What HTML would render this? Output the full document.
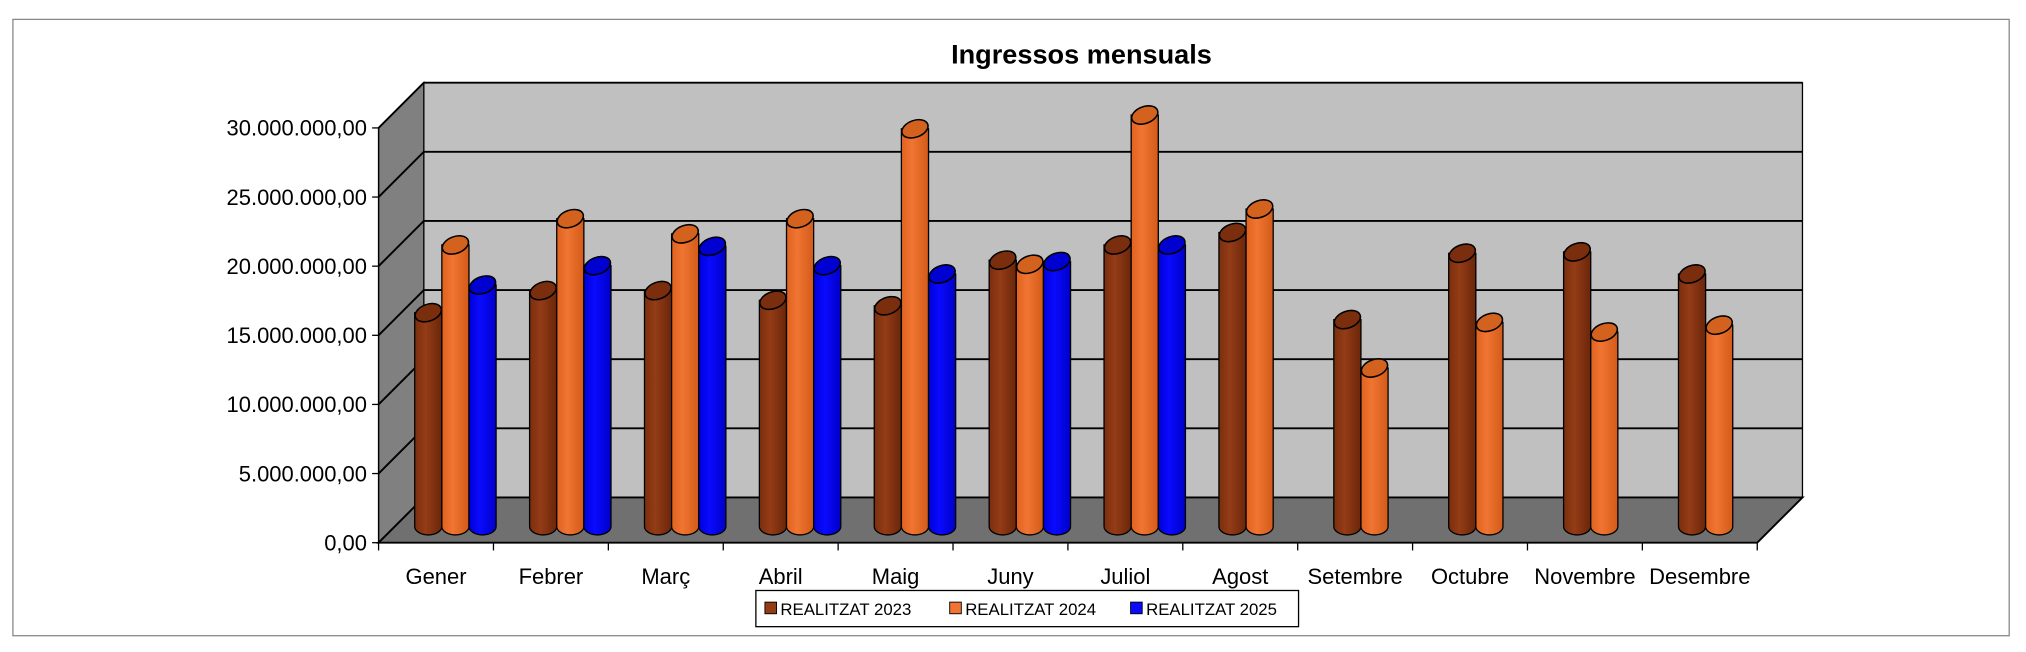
<!DOCTYPE html>
<html><head><meta charset="utf-8"><style>
html,body{margin:0;padding:0;background:#fff;}
svg{display:block;font-family:"Liberation Sans",sans-serif;}
</style></head><body>
<svg id="chart" width="2026" height="652" viewBox="0 0 1568 504.6" xmlns="http://www.w3.org/2000/svg">
<defs>
<linearGradient id="g0" x1="0" x2="1"><stop offset="0" stop-color="#7a2e0e"/><stop offset="0.4" stop-color="#943c16"/><stop offset="1" stop-color="#6a260a"/></linearGradient>
<linearGradient id="g1" x1="0" x2="1"><stop offset="0" stop-color="#e0621e"/><stop offset="0.4" stop-color="#f07533"/><stop offset="1" stop-color="#d35a18"/></linearGradient>
<linearGradient id="g2" x1="0" x2="1"><stop offset="0" stop-color="#0000d8"/><stop offset="0.4" stop-color="#0a0aff"/><stop offset="1" stop-color="#0000c8"/></linearGradient>
</defs>
<rect x="10" y="15" width="1545" height="477" fill="#fff" stroke="#888" stroke-width="1"/>
<text x="837" y="49" text-anchor="middle" font-size="21" font-weight="bold">Ingressos mensuals</text>
<g id="walls"></g>
<g id="bars"></g>
<g id="axes"></g>
<g>
<rect x="585" y="457" width="420" height="28" fill="#fff" stroke="#000" stroke-width="1"/>
<rect x="592" y="466" width="9" height="9" fill="#943c16" stroke="#000" stroke-width="0.7"/>
<text x="604" y="476" font-size="13">REALITZAT 2023</text>
<rect x="735" y="466" width="9" height="9" fill="#f07533" stroke="#000" stroke-width="0.7"/>
<text x="747" y="476" font-size="13">REALITZAT 2024</text>
<rect x="875" y="466" width="9" height="9" fill="#0a0aff" stroke="#000" stroke-width="0.7"/>
<text x="887" y="476" font-size="13">REALITZAT 2025</text>
</g>
</svg>
<script>
const categories = ["Gener","Febrer","Març","Abril","Maig","Juny","Juliol","Agost","Setembre","Octubre","Novembre","Desembre"];
const values2023 = [15.0,16.6,16.6,15.9,15.5,18.8,19.9,20.8,14.5,19.3,19.4,17.8];
const values2024 = [19.9,21.8,20.7,21.8,28.3,18.5,29.3,22.5,11.0,14.3,13.6,14.1];
const values2025 = [17.0,18.4,19.8,18.4,17.8,18.7,19.9,null,null,null,null,null];
const yTicks = [0,5,10,15,20,25,30];
const yTickLabels = ["0,00","5.000.000,00","10.000.000,00","15.000.000,00","20.000.000,00","25.000.000,00","30.000.000,00"];
const seriesList = [values2023, values2024, values2025];

const NS = "http://www.w3.org/2000/svg";
const X0 = 293, X1 = 1360, Y0 = 420, PXM = 10.7, DX = 35, DY = -35;
function yFront(v){ return Y0 - v * PXM; }
function yMid(v){ return Y0 + DY/2 - v * PXM; }
function xCat(i){ return X0 + (X1 - X0) / categories.length * (i + 0.5); }
function mk(tag, attrs, parent){ const e = document.createElementNS(NS, tag); for (const k in attrs) e.setAttribute(k, attrs[k]); parent.appendChild(e); return e; }

const walls = document.getElementById('walls');
const yMax = yTicks[yTicks.length-1];
const bw = mk('rect', {x:X0+DX, y:yFront(yMax)+DY, width:X1-X0, height:yMax*PXM, fill:'#c0c0c0', stroke:'#000', 'stroke-width':1}, walls);


const sw = mk('polygon', {points:`${X0},${yFront(yMax)} ${X0+DX},${yFront(yMax)+DY} ${X0+DX},${Y0+DY} ${X0},${Y0}`, fill:'#808080', stroke:'#000', 'stroke-width':1}, walls);


const fl = mk('polygon', {points:`${X0},${Y0} ${X0+DX},${Y0+DY} ${X1+DX},${Y0+DY} ${X1},${Y0}`, fill:'#707070', stroke:'#000', 'stroke-width':1.5}, walls);


yTicks.forEach(function(t){
  if (t === 0) return;
  const g = mk('polyline', {points:`${X0},${yFront(t)} ${X0+DX},${yFront(t)+DY} ${X1+DX},${yFront(t)+DY}`, fill:'none', stroke:'#000', 'stroke-width':1.5}, walls);
  
  
});

const bars = document.getElementById('bars');
const R = 10.5, RY = 6.5;
const grads = ['url(#g0)','url(#g1)','url(#g2)'];
const tops = ['#7a2e0e','#d4621f','#0000d0'];
const names = ['bar-2023','bar-2024','bar-2025'];
categories.forEach(function(c, i){
  seriesList.forEach(function(s, k){
    const v = s[i];
    if (v === null || v === undefined) return;
    const cx = xCat(i) + 15 + (k - 1) * 21;
    const yb = yMid(0) + 5, yt = yMid(v);
    const g = mk('g', {}, bars);
    
    
    mk('path', {d:`M${cx-R},${yt} L${cx-R},${yb} A${R},${RY} 0 0 0 ${cx+R},${yb} L${cx+R},${yt} Z`, fill:grads[k], stroke:'#000', 'stroke-width':1}, g);
    mk('ellipse', {cx:cx, cy:yt, rx:R, ry:RY, fill:tops[k], stroke:'#000', 'stroke-width':1.2, transform:`rotate(-20 ${cx} ${yt})`}, g);
  });
});

const axes = document.getElementById('axes');
const ya = mk('line', {x1:X0, y1:yFront(yMax), x2:X0, y2:Y0, stroke:'#000', 'stroke-width':1}, axes);


yTicks.forEach(function(t, i){
  mk('line', {x1:X0-5, y1:yFront(t), x2:X0, y2:yFront(t), stroke:'#000'}, axes);
  const tx = mk('text', {x:X0-9, y:yFront(t)+6, 'text-anchor':'end', 'font-size':17}, axes);
  tx.textContent = yTickLabels[i];
  
  
});
const step = (X1 - X0) / categories.length;
for (let i = 0; i <= categories.length; i++) {
  mk('line', {x1:X0+i*step, y1:Y0, x2:X0+i*step, y2:Y0+6, stroke:'#000'}, axes);
}
categories.forEach(function(c, i){
  const tx = mk('text', {x:xCat(i), y:452, 'text-anchor':'middle', 'font-size':17}, axes);
  tx.textContent = c;
  
  
});
</script>
</body></html>
